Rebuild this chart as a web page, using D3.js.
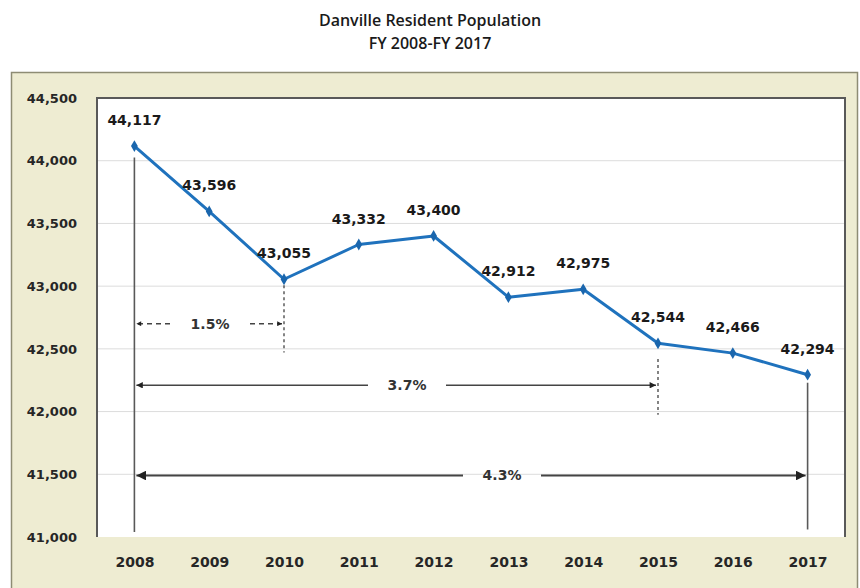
<!DOCTYPE html>
<html>
<head>
<meta charset="utf-8">
<script src="https://cdn.jsdelivr.net/npm/d3@7"></script>
<style>
  body { margin: 0; background: #fff; }
  svg text { font-family: "DejaVu Sans", sans-serif; }
</style>
</head>
<body>
<svg id="chart" width="860" height="588"></svg>
<script>
// population by fiscal year
var years = ["2008", "2009", "2010", "2011", "2012", "2013", "2014", "2015", "2016", "2017"];
var population = [44117, 43596, 43055, 43332, 43400, 42912, 42975, 42544, 42466, 42294];
var yTicks = [41000, 41500, 42000, 42500, 43000, 43500, 44000, 44500];
var titleLines = ["Danville Resident Population", "FY 2008-FY 2017"];

// percent-change brackets: from year, to year, level, label
var spans = [
  { from: "2008", to: "2010", level: 42700, label: "1.5%", dashed: true, head: 6 },
  { from: "2008", to: "2015", level: 42210, label: "3.7%", dashed: false, head: 8 },
  { from: "2008", to: "2017", level: 41490, label: "4.3%", dashed: false, head: 12 }
];
// leader lines: year, top value, bottom value
var leaders = [
  { year: "2008", top: 44025, bottom: 41040, dashed: false },
  { year: "2010", top: 43055, bottom: 42470, dashed: true },
  { year: "2015", top: 42420, bottom: 41975, dashed: true },
  { year: "2017", top: 42230, bottom: 41060, dashed: false }
];

var svg = d3.select("#chart");

var plot = { left: 97, top: 98, right: 845, bottom: 537 };

var x = d3.scalePoint()
  .domain(years)
  .range([plot.left, plot.right])
  .padding(0.5);

var y = d3.scaleLinear()
  .domain([41000, 44500])
  .range([plot.bottom, plot.top]);

// title
svg.selectAll("text.title")
  .data(titleLines)
  .enter().append("text")
  .attr("class", "title")
  .attr("x", 430)
  .attr("y", function(d, i) { return 26 + i * 23; })
  .attr("text-anchor", "middle")
  .style("font-family", "'Open Sans', sans-serif")
  .style("font-weight", 600)
  .style("font-size", "16px")
  .attr("fill", "#1a1a1a")
  .text(function(d) { return d; });

// outer frame
svg.append("rect")
  .attr("x", 11.5).attr("y", 72.5)
  .attr("width", 846).attr("height", 530)
  .attr("fill", "#eeecd2")
  .attr("stroke", "#8e8c74")
  .attr("stroke-width", 1.5);

// plot area
svg.append("rect")
  .attr("x", plot.left).attr("y", plot.top)
  .attr("width", plot.right - plot.left)
  .attr("height", plot.bottom - plot.top)
  .attr("fill", "#fff");

// gridlines
svg.append("g")
  .selectAll("line")
  .data(yTicks.slice(1))
  .enter().append("line")
  .attr("x1", plot.left).attr("x2", plot.right)
  .attr("y1", function(d) { return y(d); })
  .attr("y2", function(d) { return y(d); })
  .attr("stroke", "#dcdcdc")
  .attr("stroke-width", 1);

// plot border (left, top, right)
svg.append("path")
  .attr("d", "M" + plot.left + "," + plot.bottom + "V" + plot.top + "H" + plot.right + "V" + plot.bottom)
  .attr("fill", "none")
  .attr("stroke", "#595959")
  .attr("stroke-width", 2);

// y axis
var yAxis = svg.append("g")
  .attr("transform", "translate(" + (plot.left - 17) + ",0)")
  .call(d3.axisLeft(y).tickValues(yTicks).tickFormat(d3.format(",")).tickSize(0));
yAxis.select(".domain").remove();
yAxis.selectAll("text")
  .attr("dy", "0.32em")
  .style("font-family", "'DejaVu Sans', sans-serif")
  .style("font-weight", "bold")
  .style("font-size", "13px")
  .attr("fill", "#262626");

// x axis
var xAxis = svg.append("g")
  .attr("transform", "translate(0," + (plot.bottom + 17) + ")")
  .call(d3.axisBottom(x).tickSize(0));
xAxis.select(".domain").remove();
xAxis.selectAll("text")
  .style("font-family", "'DejaVu Sans', sans-serif")
  .style("font-weight", "bold")
  .style("font-size", "14px")
  .attr("fill", "#262626");

// arrow markers
var defs = svg.append("defs");
[6, 8, 12].forEach(function(s) {
  defs.append("marker")
    .attr("id", "arrow" + s)
    .attr("viewBox", "0 0 10 10")
    .attr("refX", 10).attr("refY", 5)
    .attr("markerUnits", "userSpaceOnUse")
    .attr("markerWidth", s).attr("markerHeight", s * 0.8)
    .attr("orient", "auto-start-reverse")
    .append("path")
    .attr("d", "M0,0L10,5L0,10Z")
    .attr("fill", "#222");
});

// leader lines
svg.append("g")
  .selectAll("line")
  .data(leaders)
  .enter().append("line")
  .attr("x1", function(d) { return x(d.year); })
  .attr("x2", function(d) { return x(d.year); })
  .attr("y1", function(d) { return y(d.top); })
  .attr("y2", function(d) { return y(d.bottom); })
  .attr("stroke", function(d) { return d.dashed ? "#333" : "#595959"; })
  .attr("stroke-width", function(d) { return d.dashed ? 1.2 : 1.6; })
  .attr("stroke-dasharray", function(d) { return d.dashed ? "3,3" : null; });

// percent-change spans, split around the label
var labelCenters = { "1.5%": 210, "3.7%": 407, "4.3%": 502 };

var spanG = svg.append("g")
  .selectAll("g")
  .data(spans)
  .enter().append("g");

spanG.each(function(d) {
  var g = d3.select(this),
      x0 = x(d.from) + 2,
      x1 = x(d.to) - 2,
      mid = labelCenters[d.label],
      gap = d.dashed ? 40 : 39,
      yy = y(d.level),
      dash = d.dashed ? "5,4" : null,
      w = d.head >= 12 ? 2 : 1.6;

  g.append("line")
    .attr("x1", mid - gap).attr("x2", x0)
    .attr("y1", yy).attr("y2", yy)
    .attr("stroke", "#444").attr("stroke-width", w)
    .attr("stroke-dasharray", dash)
    .attr("marker-end", "url(#arrow" + d.head + ")");

  g.append("line")
    .attr("x1", mid + gap).attr("x2", x1)
    .attr("y1", yy).attr("y2", yy)
    .attr("stroke", "#444").attr("stroke-width", w)
    .attr("stroke-dasharray", dash)
    .attr("marker-end", "url(#arrow" + d.head + ")");

  g.append("text")
    .attr("x", mid).attr("y", yy)
    .attr("dy", "0.35em")
    .attr("text-anchor", "middle")
    .style("font-weight", "bold")
    .style("font-size", "14px")
    .attr("fill", "#333")
    .text(d.label);
});

// population line
var line = d3.line()
  .x(function(d, i) { return x(years[i]); })
  .y(function(d) { return y(d); });

svg.append("path")
  .datum(population)
  .attr("d", line)
  .attr("fill", "none")
  .attr("stroke", "#1f72bd")
  .attr("stroke-width", 3)
  .attr("stroke-linejoin", "round");

svg.append("g")
  .selectAll("path")
  .data(population)
  .enter().append("path")
  .attr("d", d3.symbol().type(d3.symbolDiamond).size(40))
  .attr("transform", function(d, i) { return "translate(" + x(years[i]) + "," + y(d) + ")"; })
  .attr("fill", "#1a66ad");

// value labels
svg.append("g")
  .selectAll("text")
  .data(population)
  .enter().append("text")
  .attr("x", function(d, i) { return x(years[i]); })
  .attr("y", function(d) { return y(d) - 21; })
  .attr("text-anchor", "middle")
  .style("font-weight", "bold")
  .style("font-size", "14px")
  .attr("fill", "#1a1a1a")
  .text(d3.format(","));
</script>
</body>
</html>
